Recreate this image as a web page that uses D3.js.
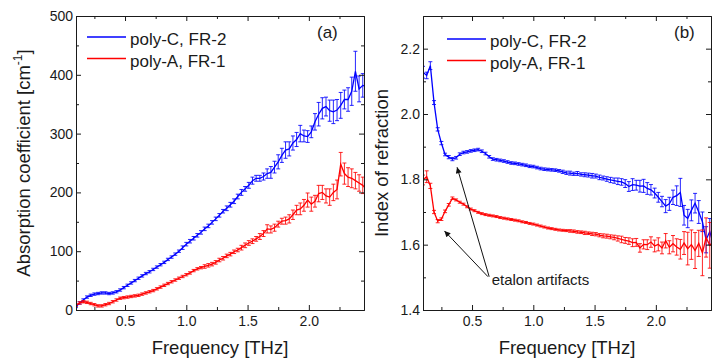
<!DOCTYPE html>
<html>
<head>
<meta charset="utf-8">
<script src="https://cdn.jsdelivr.net/npm/d3@7"></script>
<style>
  body { margin: 0; background: #fff; }
  svg { display: block; font-family: "Liberation Sans", Arial, sans-serif; }
  .axis text { font-size: 14px; font-family: "Liberation Sans", Arial, sans-serif; fill: #1a1a1a; }
  .axis path, .axis line { stroke: #1a1a1a; stroke-width: 1; }
</style>
</head>
<body>
<div class="chart"></div>
<script>
// frequency grid [THz]
var freq = [0.10,0.13,0.16,0.19,0.22,0.25,0.28,0.31,0.34,0.37,
  0.40,0.43,0.46,0.49,0.52,0.55,0.58,0.61,0.64,0.67,
  0.70,0.73,0.76,0.79,0.82,0.85,0.88,0.91,0.94,0.97,
  1.00,1.03,1.06,1.09,1.12,1.15,1.18,1.21,1.24,1.27,
  1.30,1.33,1.36,1.39,1.42,1.45,1.48,1.51,1.54,1.57,
  1.60,1.63,1.66,1.69,1.72,1.75,1.78,1.81,1.84,1.87,
  1.90,1.93,1.96,1.99,2.02,2.05,2.08,2.11,2.14,2.17,
  2.20,2.23,2.26,2.29,2.32,2.35,2.38,2.41,2.44,2.47];

// (a) absorption coefficient [cm^-1]
var alphaC = [6,12,17,22,25,27,28,29,29,28,
  29,31,34,38,42,46,50,54,58,62,
  65,69,73,77,81,86,90,95,100,106,
  112,117,122,127,132,138,143,149,155,161,
  168,173,179,185,193,200,206,212,220,224,
  224,227,232,234,243,252,263,272,274,284,
  290,300,296,295,303,320,333,343,346,339,
  337,340,348,358,358,372,406,376,382,380];
var alphaCErr = [2,2,2,2,2,2,2,2,2,2,
  2,2,2,2,2,2,2,2,2,2,
  2,2,2,2,2,2,2,2,2,3,
  3,3,3,3,3,3,3,3,3,3,
  3,4,4,4,4,5,4,5,6,5,
  5,6,8,10,10,12,12,14,12,12,
  12,14,10,10,10,14,20,18,16,18,
  20,18,22,16,20,24,34,22,20,20];
var alphaA = [8,12,14,13,11,9,7,7,9,11,
  14,17,20,21,22,23,24,25,27,29,
  31,33,36,39,42,45,48,51,54,57,
  60,63,67,70,72,74,76,78,81,85,
  88,92,95,99,102,106,110,114,117,121,
  125,130,138,137,140,146,151,152,155,162,
  170,172,178,187,180,185,198,200,194,192,
  200,205,248,232,226,224,220,216,212,205];
var alphaAErr = [2,2,2,2,2,2,2,2,2,2,
  2,2,2,2,2,2,2,2,2,2,
  2,2,2,2,2,2,2,2,2,2,
  2,2,2,2,2,3,3,3,3,3,
  3,3,3,3,3,4,4,4,4,4,
  5,5,7,6,6,5,5,6,7,8,
  8,10,10,12,12,10,14,12,12,14,
  14,16,20,18,16,16,14,14,14,14];

// (b) index of refraction
var nC = [2.128,2.118,2.148,2.035,1.953,1.911,1.876,1.868,1.862,1.866,
  1.877,1.882,1.884,1.887,1.889,1.891,1.886,1.879,1.869,1.862,
  1.860,1.858,1.856,1.853,1.850,1.849,1.847,1.845,1.843,1.840,
  1.839,1.836,1.833,1.831,1.830,1.829,1.828,1.826,1.823,1.820,
  1.819,1.817,1.818,1.815,1.814,1.813,1.811,1.810,1.806,1.804,
  1.801,1.798,1.796,1.794,1.792,1.787,1.778,1.784,1.782,1.779,
  1.780,1.772,1.768,1.758,1.745,1.732,1.718,1.725,1.745,1.750,
  1.760,1.690,1.680,1.705,1.727,1.700,1.670,1.615,1.640,1.600];
var nCErr = [0.018,0.010,0.012,0.006,0.005,0.005,0.004,0.005,0.005,0.004,
  0.004,0.004,0.004,0.004,0.004,0.004,0.004,0.004,0.004,0.004,
  0.004,0.004,0.004,0.004,0.004,0.004,0.004,0.004,0.004,0.004,
  0.004,0.004,0.004,0.004,0.004,0.004,0.004,0.004,0.005,0.005,
  0.006,0.005,0.006,0.005,0.006,0.006,0.007,0.006,0.007,0.006,
  0.007,0.008,0.008,0.010,0.010,0.012,0.015,0.018,0.015,0.018,
  0.020,0.018,0.016,0.015,0.015,0.016,0.020,0.020,0.022,0.030,
  0.043,0.030,0.028,0.032,0.030,0.035,0.030,0.040,0.040,0.040];
var nA = [1.798,1.808,1.780,1.700,1.672,1.678,1.702,1.722,1.742,1.737,
  1.730,1.724,1.716,1.709,1.704,1.699,1.695,1.692,1.690,1.688,
  1.686,1.683,1.681,1.679,1.677,1.675,1.673,1.670,1.668,1.665,
  1.663,1.660,1.657,1.654,1.651,1.649,1.647,1.645,1.644,1.643,
  1.642,1.641,1.639,1.638,1.636,1.635,1.633,1.632,1.629,1.627,
  1.626,1.624,1.622,1.619,1.616,1.613,1.611,1.606,1.607,1.590,
  1.601,1.600,1.608,1.596,1.601,1.590,1.612,1.592,1.603,1.593,
  1.586,1.605,1.588,1.600,1.582,1.604,1.575,1.622,1.598,1.610];
var nAErr = [0.015,0.018,0.008,0.005,0.005,0.004,0.004,0.004,0.004,0.003,
  0.003,0.003,0.003,0.003,0.003,0.003,0.003,0.003,0.003,0.003,
  0.003,0.003,0.003,0.003,0.003,0.003,0.003,0.003,0.003,0.003,
  0.003,0.003,0.003,0.003,0.003,0.003,0.003,0.003,0.003,0.003,
  0.004,0.004,0.004,0.004,0.005,0.004,0.005,0.005,0.005,0.006,
  0.006,0.006,0.007,0.008,0.010,0.009,0.010,0.012,0.012,0.013,
  0.014,0.015,0.016,0.018,0.020,0.018,0.022,0.020,0.025,0.025,
  0.030,0.035,0.050,0.045,0.055,0.040,0.070,0.060,0.070,0.060];

var seriesNames = ["poly-C, FR-2", "poly-A, FR-1"];
var xTicks = [0.5, 1.0, 1.5, 2.0];
var xMinor = [0.25, 0.75, 1.25, 1.75, 2.25];
var alphaTicks = [0, 100, 200, 300, 400, 500];
var alphaMinor = [50, 150, 250, 350, 450];
var indexTicks = [1.4, 1.6, 1.8, 2.0, 2.2];
var indexMinor = [1.5, 1.7, 1.9, 2.1];

var svgWidth = 714;
var svgHeight = 363;

var svg = d3.select(".chart")
  .append("svg")
  .attr("width", svgWidth)
  .attr("height", svgHeight);

var defs = svg.append("defs");
defs.append("marker")
  .attr("id", "arrow")
  .attr("viewBox", "0 0 10 10")
  .attr("refX", 10).attr("refY", 5)
  .attr("markerWidth", 9).attr("markerHeight", 6)
  .attr("markerUnits", "userSpaceOnUse")
  .attr("orient", "auto")
  .append("path")
  .attr("d", "M0,0 L10,5 L0,10 z")
  .attr("fill", "#111");

var blue = "#0000ff";
var red = "#ff0000";

function drawPanel(p) {
  var width = p.right - p.left;
  var height = p.bottom - p.top;
  var g = svg.append("g").attr("transform", `translate(${p.left}, ${p.top})`);

  var xScale = d3.scaleLinear().domain([0.1, 2.45]).range([0, width]);
  var yScale = d3.scaleLinear().domain(p.yDomain).range([height, 0]);

  defs.append("clipPath").attr("id", "clip-" + p.id)
    .append("rect").attr("width", width).attr("height", height);

  var plot = g.append("g").attr("clip-path", `url(#clip-${p.id})`);

  p.series.forEach(function(s) {
    var pts = freq.map(function(f, i) { return {f: f, v: s.vals[i], e: s.errs[i]}; });

    plot.append("g").selectAll("path")
      .data(pts)
      .enter()
      .append("path")
      .attr("d", function(d) {
        var x = xScale(d.f), y1 = yScale(d.v - d.e), y2 = yScale(d.v + d.e);
        return `M${x - 2},${y1}H${x + 2}M${x},${y1}V${y2}M${x - 2},${y2}H${x + 2}`;
      })
      .attr("stroke", s.color)
      .attr("stroke-opacity", 0.85)
      .attr("stroke-width", 1)
      .attr("fill", "none");

    var line = d3.line().x(d => xScale(d.f)).y(d => yScale(d.v));
    plot.append("path")
      .datum(pts)
      .attr("d", line)
      .attr("fill", "none")
      .attr("stroke", s.color)
      .attr("stroke-width", 1.3);
  });

  // frame with inward ticks on all four sides
  g.append("g").attr("class", "axis").attr("transform", `translate(0, ${height})`)
    .call(d3.axisBottom(xScale).tickValues(xTicks).tickFormat(d3.format(".1f"))
      .tickSizeInner(-5).tickSizeOuter(0).tickPadding(6));
  g.append("g").attr("class", "axis").attr("transform", `translate(0, ${height})`)
    .call(d3.axisBottom(xScale).tickValues(xMinor).tickFormat("").tickSizeInner(-3).tickSizeOuter(0));
  g.append("g").attr("class", "axis")
    .call(d3.axisTop(xScale).tickValues(xTicks).tickFormat("").tickSizeInner(-5).tickSizeOuter(0));
  g.append("g").attr("class", "axis")
    .call(d3.axisTop(xScale).tickValues(xMinor).tickFormat("").tickSizeInner(-3).tickSizeOuter(0));
  g.append("g").attr("class", "axis")
    .call(d3.axisLeft(yScale).tickValues(p.yTicks).tickFormat(p.yFormat)
      .tickSizeInner(-5).tickSizeOuter(0).tickPadding(3));
  g.append("g").attr("class", "axis")
    .call(d3.axisLeft(yScale).tickValues(p.yMinor).tickFormat("").tickSizeInner(-3).tickSizeOuter(0));
  g.append("g").attr("class", "axis").attr("transform", `translate(${width}, 0)`)
    .call(d3.axisRight(yScale).tickValues(p.yTicks).tickFormat("").tickSizeInner(-5).tickSizeOuter(0));
  g.append("g").attr("class", "axis").attr("transform", `translate(${width}, 0)`)
    .call(d3.axisRight(yScale).tickValues(p.yMinor).tickFormat("").tickSizeInner(-3).tickSizeOuter(0));

  // x title
  svg.append("text")
    .attr("x", p.left + width / 2)
    .attr("y", 354)
    .attr("text-anchor", "middle")
    .attr("font-size", 18.5)
    .attr("fill", "#1a1a1a")
    .text("Frequency [THz]");

  // y title
  var yt = svg.append("text")
    .attr("transform", `translate(${p.yTitleX}, ${p.top + height / 2}) rotate(-90)`)
    .attr("text-anchor", "middle")
    .attr("font-size", 18.5)
    .attr("fill", "#1a1a1a");
  p.yTitle(yt);

  // panel tag
  svg.append("text")
    .attr("x", p.tagX).attr("y", 38)
    .attr("font-size", 17)
    .attr("fill", "#1a1a1a")
    .text(p.tag);

  // legend
  p.series.forEach(function(s, i) {
    var ly = p.legendY + i * 21.5;
    svg.append("line")
      .attr("x1", p.legendX).attr("x2", p.legendX + 39)
      .attr("y1", ly).attr("y2", ly)
      .attr("stroke", s.color).attr("stroke-width", 1.3);
    svg.append("text")
      .attr("x", p.legendX + 43).attr("y", ly + 8)
      .attr("font-size", 17)
      .attr("fill", "#1a1a1a")
      .text(s.name);
  });

  return {g: g, x: xScale, y: yScale};
}

drawPanel({
  id: "a", left: 76, right: 364, top: 16, bottom: 310,
  yDomain: [0, 500], yTicks: alphaTicks, yMinor: alphaMinor, yFormat: d3.format("d"),
  series: [
    {name: seriesNames[0], vals: alphaC, errs: alphaCErr, color: blue},
    {name: seriesNames[1], vals: alphaA, errs: alphaAErr, color: red}
  ],
  yTitleX: 30,
  yTitle: function(t) {
    t.append("tspan").text("Absorption coefficient [cm");
    t.append("tspan").attr("font-size", 12).attr("dy", -8).text("-1");
    t.append("tspan").attr("dy", 8).text("]");
  },
  tag: "(a)", tagX: 317,
  legendX: 87, legendY: 37
});

var pb = drawPanel({
  id: "b", left: 423, right: 711, top: 16, bottom: 310,
  yDomain: [1.4, 2.3], yTicks: indexTicks, yMinor: indexMinor, yFormat: d3.format(".1f"),
  series: [
    {name: seriesNames[0], vals: nC, errs: nCErr, color: blue},
    {name: seriesNames[1], vals: nA, errs: nAErr, color: red}
  ],
  yTitleX: 388,
  yTitle: function(t) { t.text("Index of refraction"); },
  tag: "(b)", tagX: 674,
  legendX: 447, legendY: 39
});

// etalon annotation (data coordinates of panel b)
var notes = [
  {from: [0.63, 1.502], to: [0.275, 1.642]},
  {from: [0.64, 1.502], to: [0.378, 1.837]}
];
notes.forEach(function(n) {
  pb.g.append("line")
    .attr("x1", pb.x(n.from[0])).attr("y1", pb.y(n.from[1]))
    .attr("x2", pb.x(n.to[0])).attr("y2", pb.y(n.to[1]))
    .attr("stroke", "#111").attr("stroke-width", 1)
    .attr("marker-end", "url(#arrow)");
});
pb.g.append("text")
  .attr("x", pb.x(0.66)).attr("y", pb.y(1.478))
  .attr("font-size", 15)
  .attr("fill", "#1a1a1a")
  .text("etalon artifacts");
</script>
</body>
</html>
